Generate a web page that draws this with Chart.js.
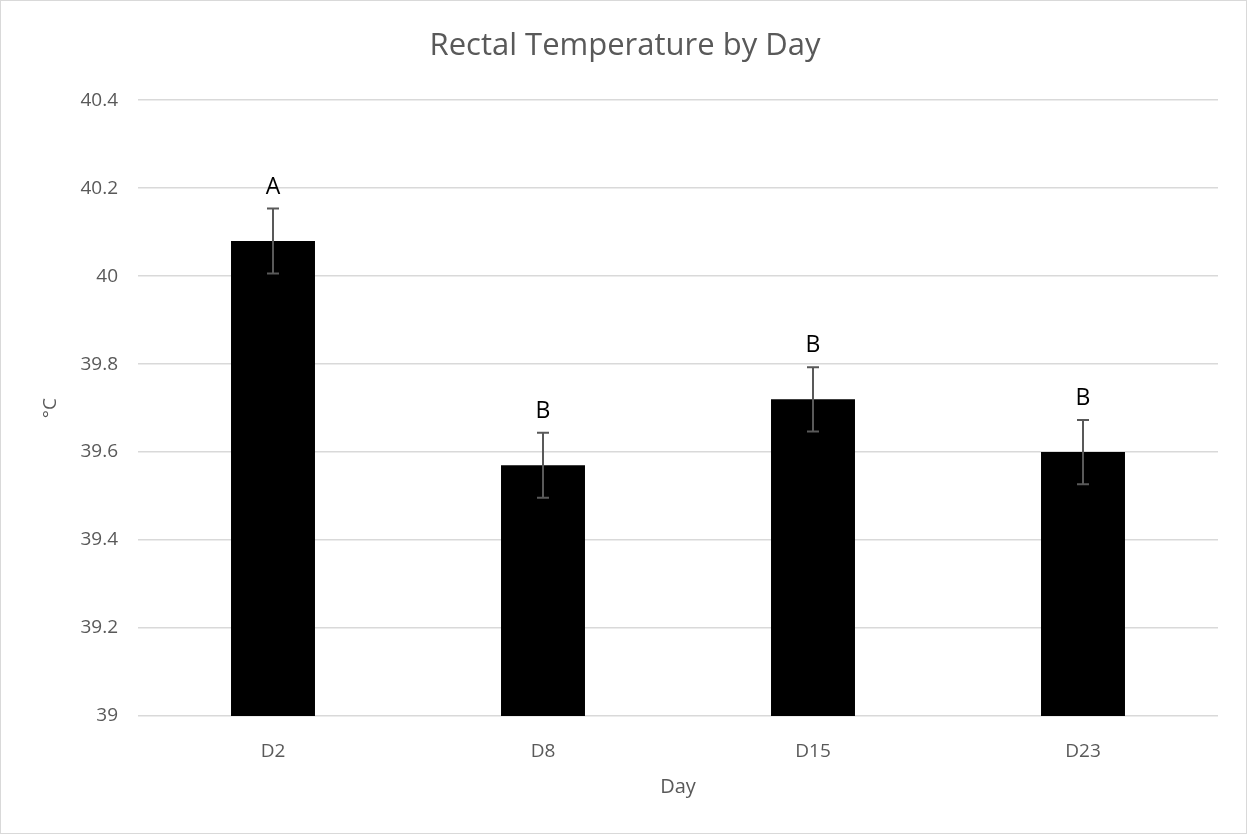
<!DOCTYPE html>
<html>
<head>
<meta charset="utf-8">
<script src="https://cdn.jsdelivr.net/npm/chart.js@4.4.1/dist/chart.umd.min.js"></script>
<style>
  html, body { margin: 0; padding: 0; background: #fff; }
  #wrap { width: 1247px; height: 834px; position: relative; }
</style>
</head>
<body>
<div id="wrap"><canvas id="c"></canvas></div>
<script>
// Mean rectal temperature per sampling day, with standard errors and significance letters
const days = ['D2', 'D8', 'D15', 'D23'];
const meanTemp = [40.08, 39.57, 39.72, 39.60];
const stdErr = [0.074, 0.074, 0.073, 0.073];
const groupLetters = ['A', 'B', 'B', 'B'];
const yTicks = [39, 39.2, 39.4, 39.6, 39.8, 40, 40.2, 40.4];

const FONT = "'Open Sans', 'Noto Sans', sans-serif";
const GREY = '#595959';

// White background and thin outer frame
const frame = {
  id: 'frame',
  beforeDraw(chart) {
    const ctx = chart.ctx;
    ctx.save();
    ctx.fillStyle = '#ffffff';
    ctx.fillRect(0, 0, chart.width, chart.height);
    ctx.strokeStyle = '#d9d9d9';
    ctx.lineWidth = 1;
    ctx.strokeRect(0.5, 0.5, chart.width - 1, chart.height - 1);
    ctx.restore();
  }
};

// Error bars with caps and the group letters above each bar
const errorBars = {
  id: 'errorBars',
  afterDatasetsDraw(chart) {
    const ctx = chart.ctx;
    const y = chart.scales.y;
    const meta = chart.getDatasetMeta(0);
    ctx.save();
    meta.data.forEach((bar, i) => {
      const x = bar.x;
      const top = y.getPixelForValue(meanTemp[i] + stdErr[i]);
      const bot = y.getPixelForValue(meanTemp[i] - stdErr[i]);
      ctx.strokeStyle = GREY;
      ctx.lineWidth = 2;
      ctx.beginPath();
      ctx.moveTo(x, top); ctx.lineTo(x, bot);
      ctx.moveTo(x - 6, top); ctx.lineTo(x + 6, top);
      ctx.moveTo(x - 6, bot); ctx.lineTo(x + 6, bot);
      ctx.stroke();

      ctx.fillStyle = '#000000';
      ctx.font = '23px ' + FONT;
      ctx.textAlign = 'center';
      ctx.textBaseline = 'alphabetic';
      ctx.fillText(groupLetters[i], x, y.getPixelForValue(meanTemp[i]) - 47);
    });
    ctx.restore();
  }
};

new Chart(document.getElementById('c'), {
  type: 'bar',
  data: {
    labels: days,
    datasets: [{
      data: meanTemp,
      backgroundColor: '#000000',
      borderWidth: 0,
      categoryPercentage: 1,
      barPercentage: 0.311
    }]
  },
  options: {
    responsive: true,
    maintainAspectRatio: false,
    animation: false,
    layout: { padding: { left: 32, right: 29, top: 0, bottom: 0 } },
    plugins: {
      legend: { display: false },
      tooltip: { enabled: false },
      title: {
        display: true,
        text: 'Rectal Temperature by Day',
        color: GREY,
        font: { family: FONT, size: 31, weight: 'normal' },
        padding: { top: 28, bottom: 35 }
      }
    },
    scales: {
      x: {
        grid: { display: false },
        border: { display: false },
        ticks: { color: GREY, font: { family: FONT, size: 19 }, padding: 16 },
        title: {
          display: true, text: 'Day', color: GREY,
          font: { family: FONT, size: 20 }, padding: { top: 12, bottom: 35 }
        },
        afterFit(scale) { scale.height = 118; }
      },
      y: {
        min: 39,
        max: 40.4,
        afterBuildTicks(scale) { scale.ticks = yTicks.map(v => ({ value: v })); },
        grid: { color: '#d9d9d9', lineWidth: 1.5, drawTicks: false },
        border: { display: false },
        ticks: {
          color: GREY, font: { family: FONT, size: 19 }, padding: 20,
          callback: v => String(Math.round(v * 10) / 10)
        },
        title: {
          display: true, text: '°C', color: GREY,
          font: { family: FONT, size: 19 }, padding: { top: 7, bottom: 4 }
        },
        afterFit(scale) { scale.width = 106; }
      }
    }
  },
  plugins: [frame, errorBars]
});
</script>
</body>
</html>
